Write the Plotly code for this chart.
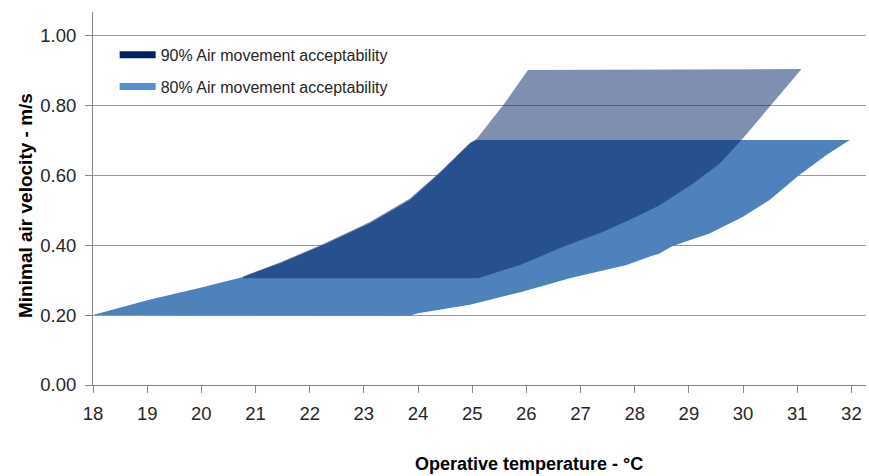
import plotly.graph_objects as go

# 80% acceptability band: upper edge and lower edge, both read left to right
t80_upper = [18, 19, 20, 20.77, 21.45, 22.25, 23.11, 23.85, 24.4, 24.96, 25.08, 31.97]
v80_upper = [0.20, 0.242, 0.279, 0.309, 0.348, 0.40, 0.462, 0.529, 0.605, 0.69, 0.70, 0.70]
t80_lower = [18, 23.85, 24.0, 24.96, 25.94, 26.8, 27.85, 28.28, 28.46, 28.7, 29.38, 30.0,
             30.49, 31.04, 31.54, 31.97]
v80_lower = [0.20, 0.198, 0.205, 0.229, 0.267, 0.305, 0.343, 0.367, 0.376, 0.397, 0.433, 0.481,
             0.529, 0.60, 0.657, 0.70]

# 90% acceptability band
t90_upper = [20.77, 21.45, 22.25, 23.11, 23.85, 24.4, 24.96, 25.08, 25.6, 26.03, 31.08]
v90_upper = [0.31, 0.35, 0.403, 0.466, 0.533, 0.608, 0.692, 0.703, 0.805, 0.90, 0.903]
t90_lower = [20.77, 25.11, 25.88, 26.68, 27.42, 28.03, 28.46, 29.08, 29.57, 30.0, 30.52, 31.08]
v90_lower = [0.305, 0.305, 0.343, 0.395, 0.438, 0.481, 0.514, 0.576, 0.633, 0.705, 0.802, 0.903]

x_ticks = list(range(18, 33))
y_ticks = [0, 0.2, 0.4, 0.6, 0.8, 1.0]

col80 = '#4F81BD'
col90 = 'rgba(0,32,96,0.5)'

fig = go.Figure()

fig.add_trace(go.Scatter(x=t80_upper + t80_lower[::-1], y=v80_upper + v80_lower[::-1],
                         fill='toself', fillcolor=col80, mode='lines', line=dict(width=0),
                         showlegend=False, hoverinfo='skip'))
fig.add_trace(go.Scatter(x=t90_upper + t90_lower[::-1], y=v90_upper + v90_lower[::-1],
                         fill='toself', fillcolor=col90, mode='lines', line=dict(width=0),
                         showlegend=False, hoverinfo='skip'))

# legend entries
fig.add_trace(go.Scatter(x=[None], y=[None], mode='lines', line=dict(color='#002060', width=7),
                         name='90% Air movement acceptability', legendgroup='a'))
fig.add_trace(go.Scatter(x=[None], y=[None], mode='lines', line=dict(color='#558ED5', width=7),
                         name='80% Air movement acceptability', legendgroup='b'))

fig.update_layout(
    width=869, height=476,
    margin=dict(l=93, r=3, t=12, b=91),
    plot_bgcolor='white', paper_bgcolor='white',
    font=dict(family='Liberation Sans, Arial', color='#262626'),
    showlegend=True,
    legend=dict(x=0.028, y=0.931, xanchor='left', yanchor='top',
                font=dict(size=16, color='#262626'),
                bgcolor='rgba(0,0,0,0)', traceorder='grouped', tracegroupgap=8,
                itemwidth=36),
    xaxis=dict(range=[18, 32.27], tickvals=x_ticks, ticks='outside', ticklen=7,
               tickcolor='#868686', showline=True, linecolor='#868686', linewidth=1,
               showgrid=False, zeroline=False, tickfont=dict(size=18.5),
               ticklabelstandoff=5),
    yaxis=dict(range=[0, 1.066], tickvals=y_ticks, tickformat='.2f', ticks='outside',
               ticklen=7, tickcolor='#868686', showline=True, linecolor='#868686',
               linewidth=1, showgrid=True, gridcolor='#9a9a9a', gridwidth=1,
               zeroline=False, tickfont=dict(size=18.5), ticklabelstandoff=5),
    annotations=[
        dict(text='<b>Operative temperature - °C</b>', xref='paper', yref='paper',
             x=(529 - 93) / 773, y=-(464 - 385) / 373, xanchor='center', yanchor='middle',
             showarrow=False, font=dict(size=18, color='black')),
        dict(text='<b>Minimal air velocity - m/s</b>', xref='paper', yref='paper',
             x=-(93 - 25) / 773, y=(385 - 206) / 373, xanchor='center', yanchor='middle',
             showarrow=False, textangle=-90, font=dict(size=19, color='black')),
    ],
)

fig.write_html("out.html", config={'displayModeBar': False},
               post_script="document.body.style.margin='0';")
